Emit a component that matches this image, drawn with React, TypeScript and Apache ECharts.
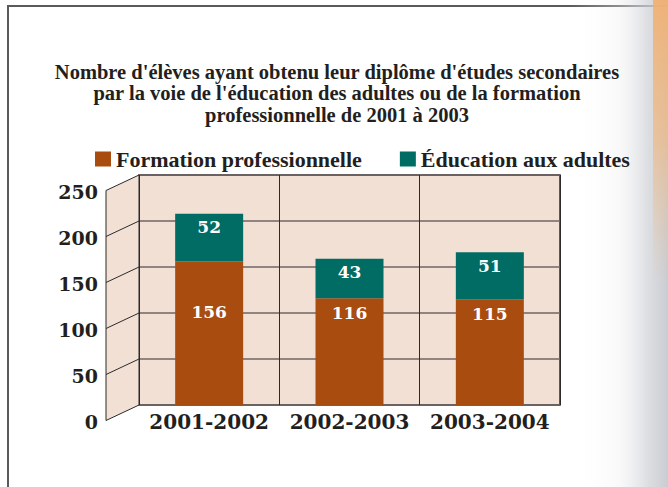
import React, { useEffect, useRef } from "react";
import * as echarts from "echarts";

const categories = ["2001-2002", "2002-2003", "2003-2004"];
const formationPro = [156, 116, 115];
const educationAdultes = [52, 43, 51];
const yTickValues = [0, 50, 100, 150, 200, 250];
const titleLines = [
  "Nombre d'élèves ayant obtenu leur diplôme d'études secondaires",
  "par la voie de l'éducation des adultes ou de la formation",
  "professionnelle de 2001 à 2003",
];
const seriesNames = ["Formation professionnelle", "Éducation aux adultes"];

const ORANGE = "#a94c10";
const TEAL = "#006c63";
const WALL = "#f2e0d5";
const INK = "#231f20";
const NUM_FONT = "'DejaVu Serif', serif";
const TXT_FONT = "'Liberation Serif', 'Times New Roman', Times, serif";

export default function App() {
  const ref = useRef<HTMLDivElement>(null);
  useEffect(() => {
    if (!ref.current) return;
    const chart = echarts.init(ref.current, null, { renderer: "svg" });
    const gridLeft = 139, gridTop = 175, gridRight = 108, gridBottom = 82;
    chart.setOption({
      animation: false,
      backgroundColor: "#ffffff",
      title: {
        text: titleLines.join("\n"),
        left: 337,
        textAlign: "center",
        top: 61,
        padding: 0,
        textStyle: {
          fontFamily: TXT_FONT,
          fontWeight: "bold",
          fontSize: 20.5,
          lineHeight: 21.5,
          color: INK,
        },
      },
      legend: {
        left: 95,
        top: 148,
        padding: 0,
        itemWidth: 16,
        itemHeight: 15,
        itemGap: 38,
        icon: "rect",
        data: seriesNames,
        textStyle: {
          fontFamily: TXT_FONT,
          fontWeight: "bold",
          fontSize: 22,
          color: INK,
        },
      },
      grid: {
        left: gridLeft,
        top: gridTop,
        right: gridRight,
        bottom: gridBottom,
        show: true,
        backgroundColor: WALL,
        borderColor: "#2b2b2b",
        borderWidth: 1.5,
      },
      xAxis: {
        type: "category",
        data: categories,
        boundaryGap: true,
        axisLine: { show: false },
        axisTick: { show: false },
        splitLine: { show: true, interval: 0, lineStyle: { color: "#2b2b2b", width: 1 } },
        axisLabel: {
          interval: 0,
          margin: 7,
          fontFamily: NUM_FONT,
          fontWeight: "bold",
          fontSize: 20,
          color: INK,
        },
      },
      yAxis: {
        type: "value",
        min: 0,
        max: 250,
        interval: 50,
        axisLine: { show: false },
        axisTick: { show: false },
        splitLine: { show: true, lineStyle: { color: "#6f6565", width: 1.5 } },
        axisLabel: {
          margin: 41,
          verticalAlign: "top",
          lineHeight: 33,
          fontFamily: NUM_FONT,
          fontWeight: "bold",
          fontSize: 19,
          color: INK,
        },
      },
      series: [
        {
          name: seriesNames[0],
          type: "bar",
          stack: "total",
          barWidth: 68,
          itemStyle: { color: ORANGE },
          label: {
            show: true,
            position: "insideTop",
            distance: 6,
            color: "#ffffff",
            fontFamily: NUM_FONT,
            fontWeight: "bold",
            fontSize: 17,
          },
          data: formationPro.map((v, i) =>
            i === 0 ? { value: v, label: { distance: 42 } } : v
          ),
        },
        {
          name: seriesNames[1],
          type: "bar",
          stack: "total",
          barWidth: 68,
          itemStyle: { color: TEAL },
          label: {
            show: true,
            position: "insideTop",
            distance: 5,
            color: "#ffffff",
            fontFamily: NUM_FONT,
            fontWeight: "bold",
            fontSize: 17,
          },
          data: educationAdultes,
        },
      ],
    });

    // Side wall (pseudo-3D) built from the axis scale
    const dx = -33, dy = 15.5;
    const yPix = yTickValues.map((v) => chart.convertToPixel({ yAxisIndex: 0 }, v) as number);
    const yTop = yPix[yPix.length - 1];
    const yBot = yPix[0];
    const graphics: any[] = [
      {
        type: "polygon",
        z: 1,
        shape: {
          points: [
            [gridLeft, yTop],
            [gridLeft + dx, yTop + dy],
            [gridLeft + dx, yBot + dy],
            [gridLeft, yBot],
          ],
        },
        style: { fill: WALL, stroke: "#2b2b2b", lineWidth: 1 },
      },
    ];
    yPix.slice(1, -1).forEach((y) => {
      graphics.push({
        type: "line",
        z: 1,
        shape: { x1: gridLeft, y1: y, x2: gridLeft + dx, y2: y + dy },
        style: { stroke: "#2b2b2b", lineWidth: 1 },
      });
    });
    // page frame
    graphics.push({
      type: "polyline",
      z: 0,
      shape: { points: [[8, 487], [8, 6], [668, 6]] },
      style: { stroke: "#5a5a5a", lineWidth: 2, fill: null },
    });
    // right-edge blurred decoration
    graphics.push({
      type: "rect",
      z: 0,
      shape: { x: 570, y: 0, width: 98, height: 487 },
      style: {
        fill: {
          type: "linear",
          x: 0, y: 0, x2: 1, y2: 0,
          colorStops: [
            { offset: 0, color: "rgba(255,255,255,0)" },
            { offset: 0.5, color: "rgba(238,238,240,0.35)" },
            { offset: 0.8, color: "rgba(208,210,215,0.75)" },
            { offset: 1, color: "rgba(195,198,204,0.9)" },
          ],
        },
      },
    });
    graphics.push({
      type: "rect",
      z: 0,
      shape: { x: 653, y: 0, width: 15, height: 280 },
      style: {
        fill: {
          type: "linear",
          x: 0, y: 0, x2: 0, y2: 1,
          colorStops: [
            { offset: 0, color: "rgba(242,175,110,0.9)" },
            { offset: 0.5, color: "rgba(242,182,125,0.65)" },
            { offset: 1, color: "rgba(242,190,140,0)" },
          ],
        },
      },
    });
    chart.setOption({ graphic: graphics });

    return () => chart.dispose();
  }, []);
  return (
    <div
      ref={ref}
      style={{ position: "fixed", left: 0, top: 0, width: 668, height: 487 }}
    />
  );
}
